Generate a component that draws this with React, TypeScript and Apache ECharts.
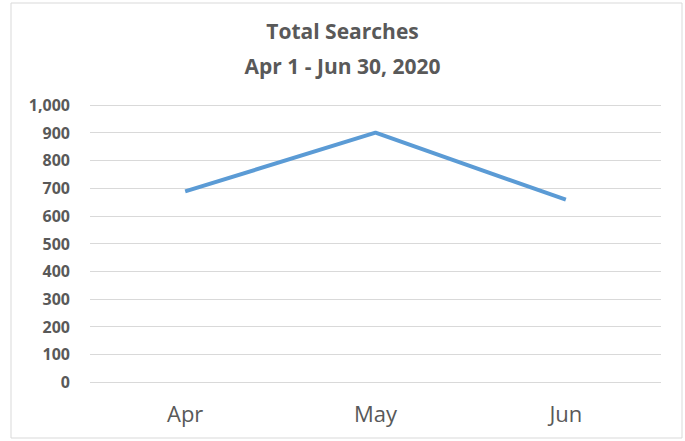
import React, { useEffect, useRef } from "react";
import * as echarts from "echarts";

const categories = ["Apr", "May", "Jun"];
const searches = [688, 900, 658];
const yMin = 0;
const yMax = 1000;
const yStep = 100;
const titleLines = ["Total Searches", "Apr 1 - Jun 30, 2020"];

export default function App() {
  const ref = useRef<HTMLDivElement>(null);
  useEffect(() => {
    if (!ref.current) return;
    const chart = echarts.init(ref.current, undefined, { renderer: "svg" });
    chart.setOption({
      animation: false,
      backgroundColor: "#ffffff",
      textStyle: { fontFamily: "Open Sans" },
      title: {
        text: titleLines.join("\n"),
        left: "center",
        top: 8,
        textStyle: {
          fontFamily: "Open Sans",
          fontSize: 21,
          fontWeight: "bold",
          color: "#595959",
          lineHeight: 35,
        },
      },
      graphic: [
        {
          type: "rect",
          shape: { x: 11, y: 3, width: 671, height: 435 },
          style: { fill: "none", stroke: "#d9d9d9", lineWidth: 1 },
          silent: true,
        },
      ],
      grid: { left: 90, right: 24, top: 105, bottom: 59, containLabel: false },
      xAxis: {
        type: "category",
        data: categories,
        boundaryGap: true,
        axisLine: { show: false },
        axisTick: { show: false },
        axisLabel: {
          color: "#595959",
          fontSize: 22,
          fontFamily: "Open Sans",
          margin: 20,
        },
      },
      yAxis: {
        type: "value",
        min: yMin,
        max: yMax,
        interval: yStep,
        axisLine: { show: false },
        axisTick: { show: false },
        splitLine: { lineStyle: { color: "#d9d9d9", width: 1 } },
        axisLabel: {
          color: "#595959",
          fontSize: 16,
          fontWeight: "bold",
          fontFamily: "Open Sans",
          margin: 20,
          formatter: (v: number) => v.toLocaleString("en-US"),
        },
      },
      series: [
        {
          type: "line",
          data: searches,
          symbol: "none",
          lineStyle: { color: "#5b9bd5", width: 4 },
        },
      ],
    });
    return () => chart.dispose();
  }, []);
  return (
    <div
      ref={ref}
      style={{ position: "fixed", left: 0, top: 0, width: 685, height: 441 }}
    />
  );
}
